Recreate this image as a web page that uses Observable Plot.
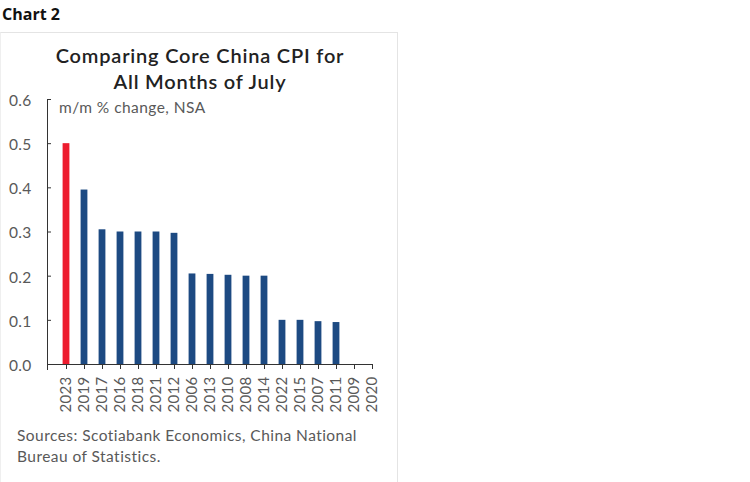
<!DOCTYPE html>
<html>
<head>
<meta charset="utf-8">
<script src="https://cdn.jsdelivr.net/npm/d3@7"></script>
<script src="https://cdn.jsdelivr.net/npm/@observablehq/plot@0.6"></script>
<style>
  html, body { margin: 0; padding: 0; background: #fff; width: 750px; height: 482px; overflow: hidden; }
  body { position: relative; font-family: Lato, "Open Sans", sans-serif; }
  #head { position: absolute; left: 2px; top: 3px; font-family: "Open Sans", sans-serif; font-weight: 700; font-size: 16px; color: #111; }
  #box { position: absolute; left: 0; top: 32px; width: 396px; height: 460px; border-top: 1px solid #e4e4e4; border-right: 1px solid #e4e4e4; border-left: 1px solid #efefef; }
  #title { position: absolute; left: 0; width: 400px; top: 42px; text-align: center; font-family: Lato, sans-serif; font-weight: 600; font-size: 20px; letter-spacing: 0.8px; line-height: 26px; color: #222; }
  #sub { position: absolute; left: 59px; top: 98px; font-size: 15.5px; letter-spacing: 0.45px; color: #595959; font-family: Lato, sans-serif; }
  #chart { position: absolute; left: 0; top: 90px; }
  #src { position: absolute; left: 17px; top: 425px; font-size: 15.5px; letter-spacing: 0.45px; line-height: 21px; color: #595959; font-family: Lato, sans-serif; }
</style>
</head>
<body>
<div id="head">Chart 2</div>
<div id="box"></div>
<div id="title">Comparing Core China CPI for<br>All Months of July</div>
<div id="chart"></div>
<div id="sub">m/m % change, NSA</div>
<div id="src">Sources: Scotiabank Economics, China National<br>Bureau of Statistics.</div>
<script>
const years = ["2023","2019","2017","2016","2018","2021","2012","2006","2013","2010","2008","2014","2022","2015","2007","2011","2009","2020"];
const values = [0.50,0.395,0.305,0.30,0.30,0.30,0.297,0.205,0.204,0.202,0.20,0.20,0.10,0.10,0.097,0.095,0,0];
const highlight = ["2023"];
const yTicks = [0,0.1,0.2,0.3,0.4,0.5,0.6];

const data = years.map((y, i) => ({year: y, value: values[i], hi: highlight.includes(y)}));

const chart = Plot.plot({
  width: 400,
  height: 330,
  marginTop: 9,
  marginBottom: 56,
  marginLeft: 47,
  marginRight: 27,
  style: {fontFamily: "Lato, sans-serif", background: "transparent", overflow: "visible", letterSpacing: "0.3px"},
  x: {domain: years, range: [55.94, 382.06], padding: 0},
  y: {domain: [0, 0.6]},
  marks: [
    Plot.barY(data, {x: "year", y: "value", fill: d => d.hi ? "#ED1C2E" : "#1D4A82", insetLeft: 5.6, insetRight: 5.6}),
    Plot.axisY(yTicks, {tickSize: 0, tickPadding: 16, dy: 1.5, tickFormat: d3.format(".1f"), fontSize: 15.5, fill: "#595959", label: null}),
    Plot.axisY(yTicks, {tickSize: -4, text: null, stroke: "#333", label: null}),
    Plot.frame({anchor: "left", stroke: "#333", insetBottom: -5}),
    Plot.ruleY([0], {stroke: "#333"}),
    Plot.axisX({tickSize: 5, stroke: "#333", tickRotate: -90, tickPadding: 7, fontSize: 15, fill: "#595959", label: null, textAnchor: "end"})
  ]
});
document.getElementById("chart").appendChild(chart);
</script>
</body>
</html>
